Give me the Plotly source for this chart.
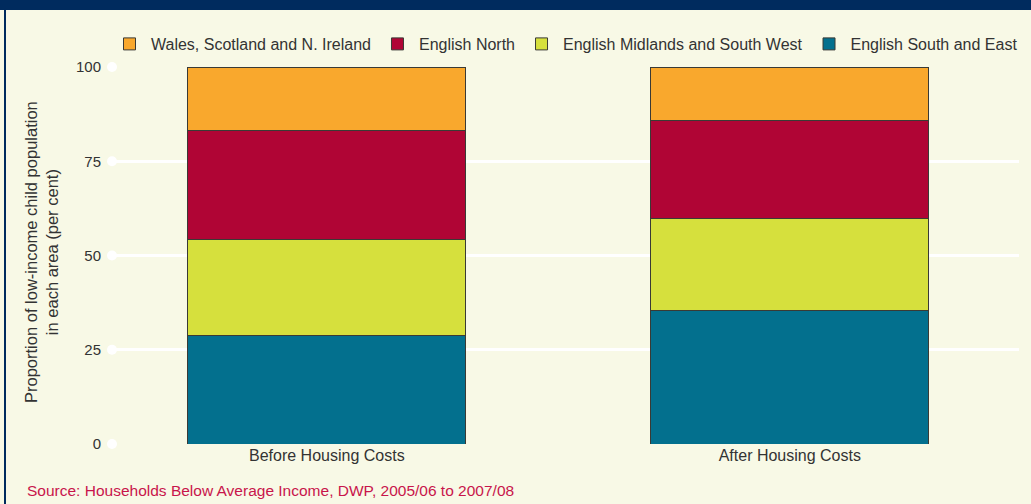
import plotly.graph_objects as go

categories = ["Before Housing Costs", "After Housing Costs"]
series_names = ["English South and East", "English Midlands and South West",
                "English North", "Wales, Scotland and N. Ireland"]
south_east = [28.7, 35.4]
midlands_sw = [25.6, 24.4]
north = [28.9, 25.9]
wales_scot_ni = [16.8, 14.3]
y_ticks = [0, 25, 50, 75, 100]

colors = ["#03708E", "#D6E03D", "#B00535", "#F9A82D"]
values = [south_east, midlands_sw, north, wales_scot_ni]

FONT = "Liberation Sans, Arial, sans-serif"
BG = "#F8F9E6"
NAVY = "#002B5E"

fig = go.Figure()
for name, vals, col in zip(series_names, values, colors):
    fig.add_trace(go.Bar(
        x=categories, y=vals, name=name, width=0.6,
        marker=dict(color=col, line=dict(color="#3a3a35", width=1)),
        cliponaxis=False,
    ))

# white dots at start of gridlines
fig.add_trace(go.Scatter(
    x=[0] * len(y_ticks), y=y_ticks, xaxis="x2", mode="markers",
    marker=dict(color="white", size=10), showlegend=False,
    cliponaxis=False, hoverinfo="skip",
))

W, H = 1031, 504
L, R, T, B = 112, 12, 67, 60
pw = W - L - R
ph = H - T - B

def px(x):
    return (x - L) / pw

def py(y):
    return (H - B - y) / ph

fig.update_layout(
    width=W, height=H,
    barmode="stack",
    paper_bgcolor=BG, plot_bgcolor=BG,
    margin=dict(l=L, r=R, t=T, b=B, autoexpand=False),
    font=dict(family=FONT, size=16, color="#333333"),
    xaxis=dict(range=[-0.464, 1.495], showgrid=False, zeroline=False,
               showline=False, ticks="", tickfont=dict(size=16)),
    xaxis2=dict(range=[0, 1], overlaying="x", visible=False),
    yaxis=dict(range=[0, 100], tickvals=y_ticks, showgrid=True,
               gridcolor="white", gridwidth=3, zeroline=False,
               showline=False, ticklabelstandoff=10,
               tickfont=dict(size=15)),
    legend=dict(orientation="h", traceorder="reversed",
                x=px(108), xanchor="left", y=py(44), yanchor="middle",
                font=dict(size=16), bgcolor="rgba(0,0,0,0)", itemwidth=33),
    showlegend=True,
    shapes=[
        dict(type="rect", xref="paper", yref="paper",
             x0=px(-2), x1=px(W + 2), y0=py(10), y1=py(-3),
             fillcolor=NAVY, line=dict(width=0), layer="above"),
        dict(type="rect", xref="paper", yref="paper",
             x0=px(4), x1=px(6), y0=py(H + 2), y1=py(0),
             fillcolor=NAVY, line=dict(width=0), layer="above"),
    ],
    annotations=[
        dict(text="Proportion of low-income child population<br>in each area (per cent)",
             xref="paper", yref="paper", x=px(41), y=py(252),
             xanchor="center", yanchor="middle", textangle=-90,
             showarrow=False, font=dict(size=16.5, color="#333333")),
        dict(text="Source: Households Below Average Income, DWP, 2005/06 to 2007/08",
             xref="paper", yref="paper", x=px(25), y=py(490),
             xanchor="left", yanchor="middle", showarrow=False,
             font=dict(size=15.5, color="#C8154B")),
    ],
)

fig.write_html("out.html", config={"displayModeBar": False},
               post_script="document.body.style.margin='0';document.body.style.overflow='hidden';")
